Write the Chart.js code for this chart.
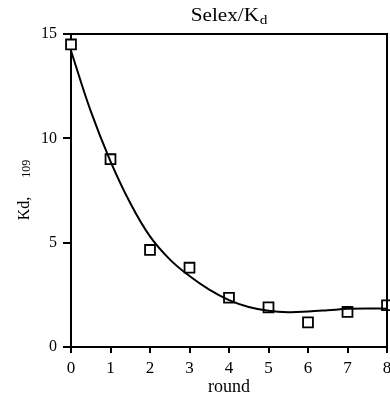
<!DOCTYPE html>
<html><head><meta charset="utf-8">
<script src="https://cdn.jsdelivr.net/npm/chart.js@4"></script>
<style>html,body{margin:0;padding:0;background:#fff}#wrap{width:390px;height:398px}</style>
</head><body><div id="wrap"><canvas id="c" width="390" height="398"></canvas></div>
<script>
const rounds = [0, 1, 2, 3, 4, 5, 6, 7, 8];
const kdValues = [14.5, 9.0, 4.65, 3.8, 2.36, 1.9, 1.18, 1.68, 2.0];
const fitX = [0, 0.5, 1, 1.5, 2, 2.5, 3, 3.5, 4, 4.5, 5, 5.5, 6, 6.5, 7, 7.5, 8];
const fitY = [14.2, 11.3, 8.9, 6.9, 5.3, 4.2, 3.4, 2.75, 2.25, 1.92, 1.74, 1.67, 1.7, 1.76, 1.83, 1.85, 1.83];
const yTicks = [0, 5, 10, 15];
const titleMain = 'Selex/K';
const titleSub = 'd';
const xTitle = 'round';
const yTitleMain = 'Kd,';
const yTitleSmall = '109';

const FONT = '"Liberation Serif", "DejaVu Serif", serif';

// stretch the plot area to 3px from the right edge (Chart.js reserves room for the last tick label)
const rightEdgePlugin = {
  id: 'rightEdge',
  afterLayout(chart) {
    const a = chart.chartArea, x = chart.scales.x;
    const target = chart.width - 3;
    a.right = target; a.width = a.right - a.left;
    x.right = target; x.width = target - x.left;
    x.configure();
  }
};

const framePlugin = {
  id: 'frame',
  afterDraw(chart) {
    const ctx = chart.ctx, a = chart.chartArea;
    ctx.save();
    ctx.strokeStyle = '#000';
    ctx.lineWidth = 2;
    ctx.beginPath();
    ctx.moveTo(a.left, a.top); ctx.lineTo(a.right, a.top); ctx.lineTo(a.right, a.bottom);
    ctx.stroke();
    // title with subscript, slightly stretched horizontally like the reference
    ctx.fillStyle = '#000';
    ctx.textBaseline = 'alphabetic';
    ctx.textAlign = 'left';
    const sxs = 1.18;
    ctx.font = '18px ' + FONT;
    const w1 = ctx.measureText(titleMain).width;
    ctx.font = '13px ' + FONT;
    const w2 = ctx.measureText(titleSub).width;
    const cx = (a.left + a.right) / 2;
    ctx.save();
    ctx.translate(cx, 0);
    ctx.scale(sxs, 1);
    const x0 = -(w1 + w2 + 0.5) / 2;
    ctx.font = '18px ' + FONT;
    ctx.fillText(titleMain, x0, 21);
    ctx.font = '13px ' + FONT;
    ctx.fillText(titleSub, x0 + w1 + 0.5, 24);
    ctx.restore();
    // y title
    ctx.save();
    ctx.translate(29, 190);
    ctx.rotate(-Math.PI / 2);
    ctx.font = '16px ' + FONT;
    const m1 = ctx.measureText(yTitleMain).width;
    const gap = 19;
    ctx.font = '12px ' + FONT;
    const m2 = ctx.measureText(yTitleSmall).width;
    const s0 = -(m1 + gap + m2) / 2;
    ctx.font = '16px ' + FONT;
    ctx.fillText(yTitleMain, s0, 0);
    ctx.font = '12px ' + FONT;
    ctx.fillText(yTitleSmall, s0 + m1 + gap, 1);
    ctx.restore();
    ctx.restore();
  }
};

new Chart(document.getElementById('c'), {
  type: 'scatter',
  data: {
    datasets: [
      {
        type: 'line',
        data: fitX.map((x, i) => ({x, y: fitY[i]})),
        borderColor: '#000', borderWidth: 2, pointRadius: 0,
        tension: 0.4, fill: false
      },
      {
        data: rounds.map((x, i) => ({x, y: kdValues[i]})),
        pointStyle: 'rect', pointRadius: 7, pointBorderWidth: 1.8,
        pointBackgroundColor: '#fff', pointBorderColor: '#000', clip: false
      }
    ]
  },
  plugins: [rightEdgePlugin, framePlugin],
  options: {
    responsive: false, animation: false,
    layout: { padding: { left: 0, right: 3, top: 34, bottom: 0 } },
    plugins: { legend: { display: false }, tooltip: { enabled: false } },
    scales: {
      x: {
        type: 'linear', min: 0, max: 8,
        ticks: { stepSize: 1, color: '#000', font: { family: FONT, size: 17 }, padding: 5 },
        grid: { drawOnChartArea: false, drawTicks: true, tickLength: 6, color: '#000', lineWidth: 2 },
        border: { display: true, color: '#000', width: 2 },
        title: { display: true, text: xTitle, color: '#000', font: { family: FONT, size: 18 }, padding: { top: 2, bottom: 0 } },
        afterFit(s) { s.height = 51; }
      },
      y: {
        type: 'linear', min: 0, max: 15,
        afterBuildTicks(s) { s.ticks = yTicks.map(v => ({value: v})); },
        ticks: { color: '#000', font: { family: FONT, size: 16 }, padding: 6 },
        grid: { drawOnChartArea: false, drawTicks: true, tickLength: 8, color: '#000', lineWidth: 2 },
        border: { display: true, color: '#000', width: 2 },
        afterFit(s) { s.width = 71; }
      }
    }
  }
});
</script></body></html>
